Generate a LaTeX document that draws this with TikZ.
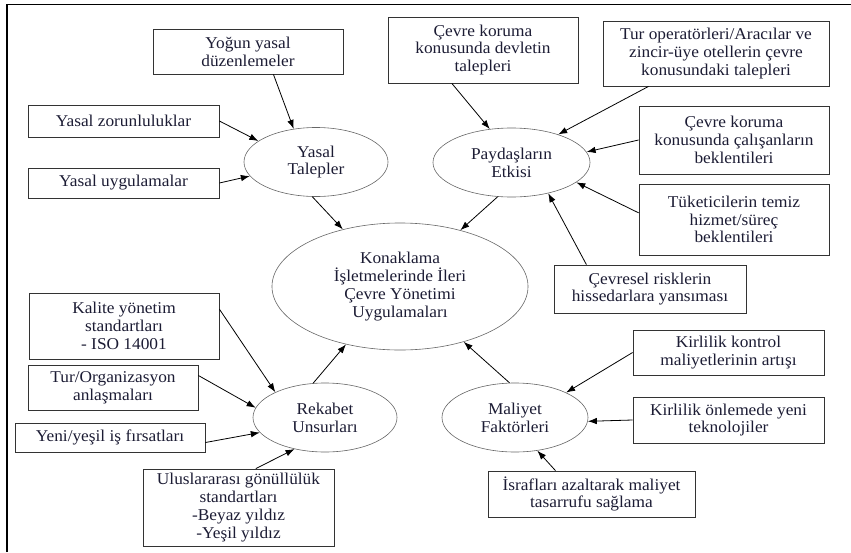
\documentclass[tikz,border=0pt]{standalone}
\usepackage{fontspec}
\setmainfont{Liberation Serif}[FakeStretch=1.05]
\usetikzlibrary{shapes.geometric,arrows.meta}
\def\olcek{0.0351459}
\def\nokta#1#2{
	({(#1)*\olcek},{(-#2)*\olcek})
}
\def\yazi{\fontsize{16.5}{17.8}\selectfont}
\definecolor{metin}{RGB}{28,28,52}
\begin{document}
\begin{tikzpicture}[>={Latex[length=9pt,width=6.5pt]},
	kutu/.style={draw=black!80,line width=0.8pt,align=center,inner sep=1pt,font=\yazi,text=metin},
	elips/.style={ellipse,draw=black!60,line width=0.6pt,align=center,inner sep=0pt,font=\yazi,text=metin},
	ok/.style={->,line width=0.8pt}]
\useasboundingbox \nokta{0}{0} rectangle \nokta{851}{552};
\draw[line width=1pt] \nokta{7}{552} -- \nokta{7}{4} -- \nokta{851}{4};
% ellipses
\node[elips,minimum width=256pt,minimum height=127pt] (merkez) at \nokta{400}{286.5}
	{Konaklama\\İşletmelerinde İleri\\Çevre Yönetimi\\Uygulamaları};
\node[elips,minimum width=144pt,minimum height=69pt] (yasal) at \nokta{316}{162} {Yasal\\Talepler};
\node[elips,minimum width=157pt,minimum height=69pt] (paydas) at \nokta{511.5}{162.5} {Paydaşların\\Etkisi};
\node[elips,minimum width=144pt,minimum height=69pt] (rekabet) at \nokta{325}{417.5} {Rekabet\\Unsurları};
\node[elips,minimum width=146pt,minimum height=69pt] (maliyet) at \nokta{515}{417.5} {Maliyet\\Faktörleri};
% boxes
\node[kutu,minimum width=190pt,minimum height=45pt] (yogun) at \nokta{248}{51.5} {Yoğun yasal\\düzenlemeler};
\node[kutu,minimum width=191pt,minimum height=32pt] (zorunlu) at \nokta{123.5}{121} {Yasal zorunluluklar};
\node[kutu,minimum width=191pt,minimum height=30pt] (uygulama) at \nokta{123.5}{183} {Yasal uygulamalar};
\node[kutu,minimum width=190pt,minimum height=66pt] (devlet) at \nokta{483}{50} {Çevre koruma\\konusunda devletin\\talepleri};
\node[kutu,minimum width=226pt,minimum height=65pt] (turop) at \nokta{716}{53.5} {Tur operatörleri/Aracılar ve\\zincir-üye otellerin çevre\\konusundaki talepleri};
\node[kutu,minimum width=190pt,minimum height=68pt] (calisan) at \nokta{734}{140} {Çevre koruma\\konusunda çalışanların\\beklentileri};
\node[kutu,minimum width=190pt,minimum height=71pt] (tuketici) at \nokta{734}{219.5} {Tüketicilerin temiz\\hizmet/süreç\\beklentileri};
\node[kutu,minimum width=192pt,minimum height=48pt] (risk) at \nokta{650}{289} {Çevresel risklerin\\hissedarlara yansıması};
\node[kutu,minimum width=191pt,minimum height=45pt] (kontrol) at \nokta{728.5}{352.5} {Kirlilik kontrol\\maliyetlerinin artışı};
\node[kutu,minimum width=191pt,minimum height=46pt] (onleme) at \nokta{728.5}{420} {Kirlilik önlemede yeni\\teknolojiler};
\node[kutu,minimum width=207pt,minimum height=46pt] (israf) at \nokta{591.5}{494} {İsrafları azaltarak maliyet\\tasarrufu sağlama};
\node[kutu,minimum width=190pt,minimum height=66pt] (kalite) at \nokta{124}{326} {Kalite yönetim\\standartları\\- ISO 14001};
\node[kutu,minimum width=170pt,minimum height=45pt] (turorg) at \nokta{113}{387.5} {Tur/Organizasyon\\anlaşmaları};
\node[kutu,minimum width=190pt,minimum height=29pt] (yeni) at \nokta{110}{437.5} {Yeni/yeşil iş fırsatları};
\node[kutu,minimum width=191pt,minimum height=77pt] (ulus) at \nokta{238.5}{507.5} {Uluslararası gönüllülük\\standartları\\-Beyaz yıldız\\-Yeşil yıldız};
% arrows
\draw[ok] (yogun.-42) -- (yasal.124.4);
\draw[ok] (zorunlu.east) -- (yasal.160.7);
\draw[ok] (uygulama.east) -- (yasal.-168.5);
\draw[ok] (yasal.-96.5) -- (merkez.135.3);
\draw[ok] (devlet.-133) -- (paydas.123.5);
\draw[ok] (turop.-154.5) -- (paydas.31.1);
\draw[ok] (calisan.west) -- (paydas.8.7);
\draw[ok] (tuketici.176) -- (paydas.-17.3);
\draw[ok] (risk.159) -- (paydas.-40.7);
\draw[ok] (paydas.-112.8) -- (merkez.43.3);
\draw[ok] (kalite.10) -- (rekabet.153);
\draw[ok] (turorg.8.4) -- (rekabet.172.8);
\draw[ok] (yeni.-3.3) -- (rekabet.-167);
\draw[ok] (ulus.66.8) -- (rekabet.-134.6);
\draw[ok] (rekabet.109.2) -- (merkez.-133.8);
\draw[ok] (maliyet.99.6) -- (merkez.-41.2);
\draw[ok] (kontrol.west) -- (maliyet.26.6);
\draw[ok] (onleme.west) -- (maliyet.-3.5);
\draw[ok] (israf.147.8) -- (maliyet.-56.3);
\end{tikzpicture}
\end{document}
